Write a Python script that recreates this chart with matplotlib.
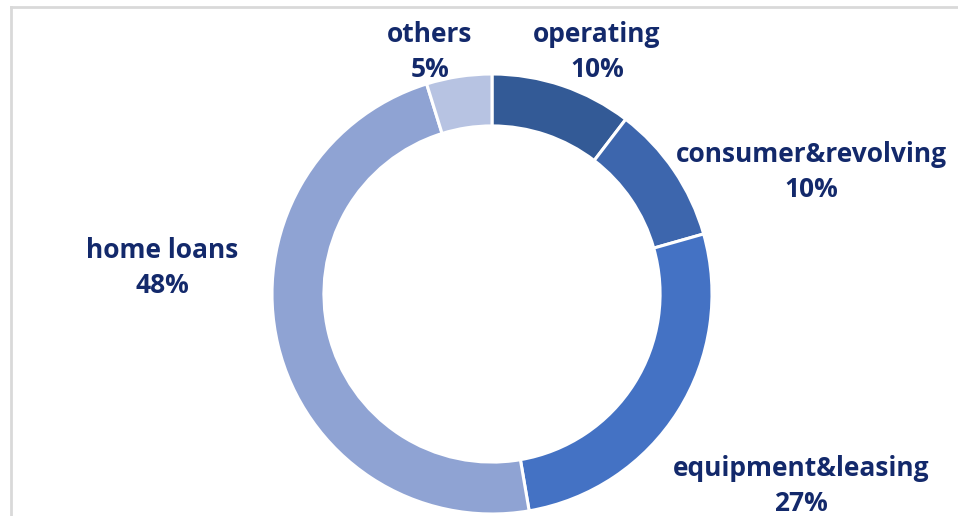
import matplotlib
matplotlib.use("Agg")
import matplotlib.pyplot as plt
from matplotlib.lines import Line2D

categories = ["operating", "consumer&revolving", "equipment&leasing", "home loans", "others"]
values = [10.4, 10.2, 26.7, 47.9, 4.8]
colors = ["#335a96", "#3d66ad", "#4472c4", "#8fa3d3", "#b7c3e2"]

W, H = 958, 516
fig = plt.figure(figsize=(W / 100, H / 100), dpi=100)
fig.patch.set_facecolor("white")
ax = fig.add_axes([0, 0, 1, 1])
ax.set_xlim(0, W)
ax.set_ylim(0, H)
ax.set_aspect("equal")
ax.axis("off")

cx, cy, R = 492, H - 294, 220
ax.pie(values, colors=colors, startangle=90, counterclock=False,
       center=(cx, cy), radius=R, frame=True,
       wedgeprops=dict(width=R * 0.236, edgecolor="white", linewidth=2.2))
ax.set_xlim(0, W)
ax.set_ylim(0, H)
ax.axis("off")

label_pos = {
    "operating": (597, 52),
    "consumer&revolving": (811, 172),
    "equipment&leasing": (801, 486),
    "home loans": (162, 268),
    "others": (430, 52),
}
total = sum(values)
for cat, v in zip(categories, values):
    x, y = label_pos[cat]
    ax.text(x, H - y, f"{cat}\n{round(v / total * 100)}%", ha="center", va="center",
            fontsize=19, fontweight="bold", color="#13296b", family="Open Sans",
            linespacing=1.38)

# chart border (light gray)
fig.add_artist(Line2D([11 / W, 1], [1 - 7 / H, 1 - 7 / H], transform=fig.transFigure,
                      color="#d9d9d9", linewidth=2))
fig.add_artist(Line2D([11 / W, 11 / W], [0, 1 - 7 / H], transform=fig.transFigure,
                      color="#d9d9d9", linewidth=2))

fig.savefig("out.png", dpi=100, facecolor="white")
